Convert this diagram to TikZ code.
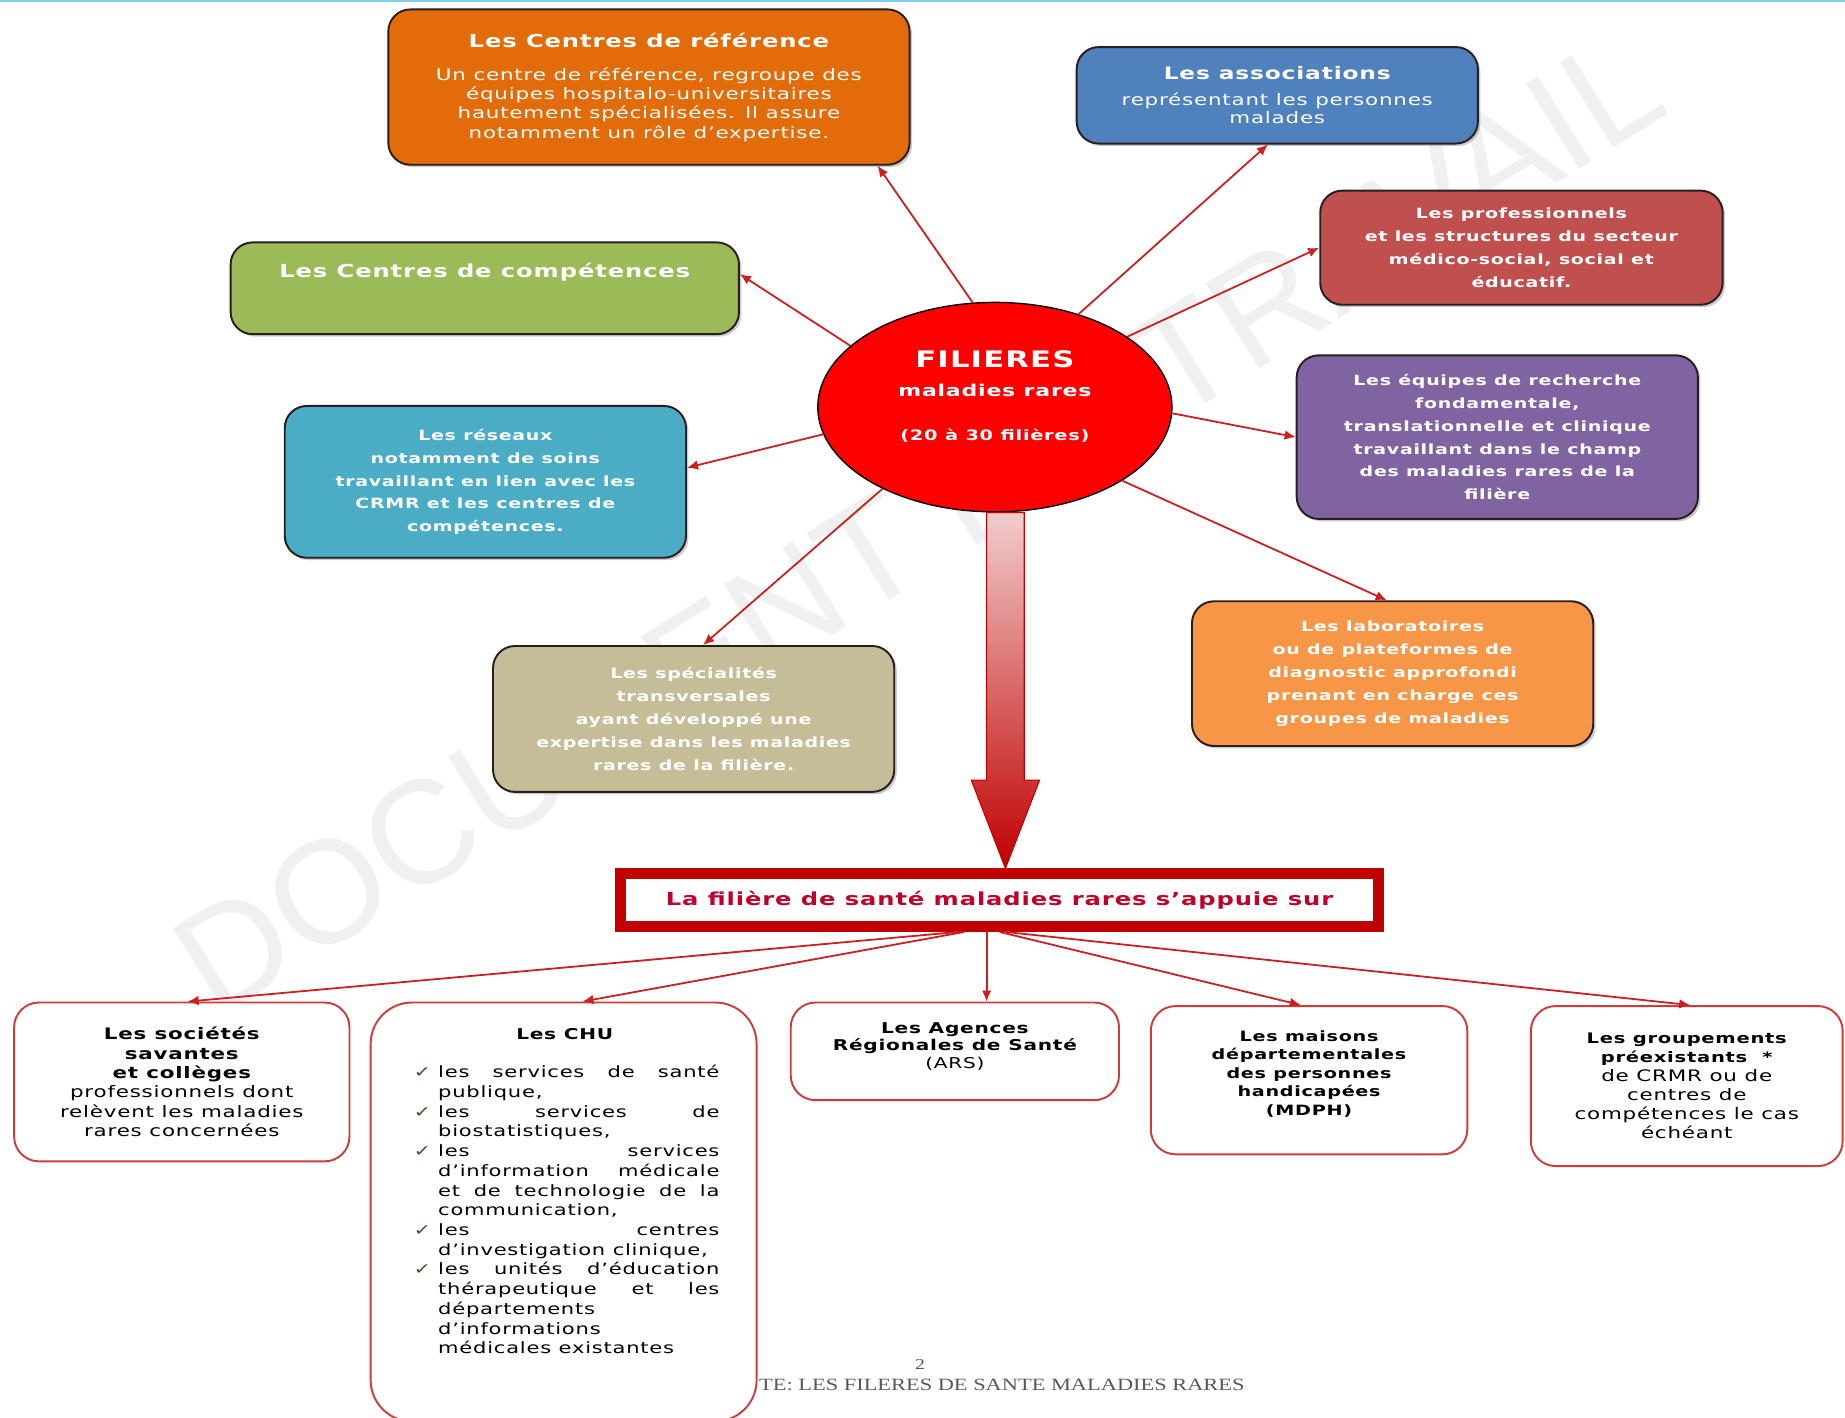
\documentclass[tikz,border=0pt]{standalone}
\usepackage{fontspec}
\setmainfont{DejaVu Sans}[FakeStretch=1.35,LetterSpace=5]
\newfontfamily\capfont{Liberation Serif}[FakeStretch=1.3]
\newfontfamily\wmfont{Liberation Sans}
\usetikzlibrary{arrows.meta,shapes.geometric,shadows,calc}
\definecolor{cOrange}{HTML}{E36C0A}
\definecolor{cBlue}{HTML}{4F81BD}
\definecolor{cRed}{HTML}{C0504D}
\definecolor{cGreen}{HTML}{9BBB59}
\definecolor{cTeal}{HTML}{4BACC6}
\definecolor{cPurple}{HTML}{8064A2}
\definecolor{cTan}{HTML}{C4BD97}
\definecolor{cOrangeB}{HTML}{F79646}
\definecolor{cDark}{HTML}{C00000}
\definecolor{cLine}{HTML}{CC1F1F}
\definecolor{cBot}{HTML}{CF3B3B}
\definecolor{cTitle}{HTML}{C0002A}
\definecolor{cCyan}{HTML}{7FCBEA}
\definecolor{cCheck}{HTML}{3A5A2A}
\definecolor{cEdge}{HTML}{281E1E}
\newcommand\ckm{\llap{\textcolor{cCheck}{✓}\hspace{5pt}}}
\newcommand\jl[1]{\hbox to 204pt{#1}}
\begin{document}
\begin{tikzpicture}[x=0.03cm,y=-0.03cm,
  upbox/.style={draw=cEdge, line width=1.4pt, rounded corners=16pt, align=center,
    text=white, inner sep=0pt,
    drop shadow={shadow xshift=1.8pt, shadow yshift=-1.8pt, opacity=0.4, fill=gray}},
  sz/.style 2 args={minimum width={#1*0.03cm}, minimum height={#2*0.03cm}},
  conn/.style={draw=cLine, line width=1.3pt, -{Latex[length=8pt,width=7pt]}},
  lowbox/.style={draw=cBot, line width=1.4pt, fill=white, rounded corners=18pt,
    align=center, inner sep=0pt, text=black},
  smallbold/.style={font=\bfseries\fontsize{10.2}{16.6}\selectfont}
]
\useasboundingbox (0,0) rectangle (1568,1205);
\fill[white] (0,0) rectangle (1568,1205);

% watermark
\node[font=\wmfont\fontsize{106}{106}\selectfont, text=gray!12, rotate=32] (wm) at (780,445) {DOCUMENT DE TRAVAIL};

% central ellipse
\node[ellipse, draw=black, line width=1pt, fill=red, text=white, inner sep=0pt,
      sz={301}{178}, align=center, font=\bfseries\fontsize{11.8}{16}\selectfont] (fil) at (845.5,346)
  {{\fontsize{16.5}{18}\selectfont FILIERES}\\[5pt] maladies rares\\[16pt]
   {\fontsize{10.4}{12}\selectfont (20 à 30 filières)}\\[1pt]\mbox{}};

% top boxes
\node[upbox, fill=cOrange, sz={443}{132}, font=\fontsize{11.5}{14}\selectfont] (b1) at (551.5,74)
  {{\fontsize{13}{15}\selectfont\bfseries Les Centres de référence}\\[10pt]
   Un centre de référence, regroupe des\\ équipes hospitalo-universitaires\\
   hautement spécialisées. Il assure\\ notamment un rôle d’expertise.};
\node[upbox, fill=cBlue, sz={341}{82}, font=\fontsize{11.5}{13.6}\selectfont] (b2) at (1085.5,81)
  {{\fontsize{12.5}{15}\selectfont\bfseries Les associations}\\[5pt]
   représentant les personnes\\ malades};
\node[upbox, fill=cRed, sz={342}{97}, smallbold] (b3) at (1293,210.5)
  {Les professionnels\\ et les structures du secteur\\ médico-social, social et\\ éducatif.};
\node[upbox, fill=cGreen, sz={432}{78}, font=\bfseries\fontsize{13}{15}\selectfont] (b4) at (412,245)
  {\raisebox{8pt}[0pt][0pt]{Les Centres de compétences}};
\node[upbox, fill=cTeal, sz={341}{129}, smallbold] (b5) at (412.5,409.5)
  {Les réseaux\\ notamment de soins\\ travaillant en lien avec les\\ CRMR et les centres de\\ compétences.};
\node[upbox, fill=cPurple, sz={341}{139}, smallbold] (b6) at (1272.5,371.5)
  {Les équipes de recherche\\ fondamentale,\\ translationnelle et clinique\\ travaillant dans le champ\\ des maladies rares de la\\ filière};
\node[upbox, fill=cTan, sz={341}{124}, smallbold] (b7) at (589.5,611)
  {Les spécialités\\ transversales\\ ayant développé une\\ expertise dans les maladies\\ rares de la filière.};
\node[upbox, fill=cOrangeB, sz={341}{123}, smallbold] (b8) at (1183.5,572.5)
  {Les laboratoires\\ ou de plateformes de\\ diagnostic approfondi\\ prenant en charge ces\\ groupes de maladies};

% connectors from the ellipse
\draw[conn] (fil.102) -- ($(b1.south east)+(-28,0)$);
\draw[conn] (fil.48) -- ($(b2.south)+(-8,0)$);
\draw[conn] (fil.28) -- (b3.west);
\draw[conn] (fil.157) -- ($(b4.east)+(0,-12)$);
\draw[conn] (fil.189) -- ($(b5.east)+(0,-12)$);
\draw[conn] (fil.-2) -- (b6.west);
\draw[conn] (fil.216) -- ($(b7.north)+(8,0)$);
\draw[conn] (fil.-30) -- ($(b8.north)+(-5,0)$);

% title box
\node[draw=cDark, line width=7.7pt, fill=white, sz={644}{45}, inner sep=0pt, text=cTitle,
      font=\bfseries\fontsize{13}{15}\selectfont] (tb) at (849.5,765)
  {La filière de santé maladies rares s’appuie sur};

% big arrow
\coordinate (aS) at ($(fil.south)+(9,0)$);
\coordinate (aT) at ($(tb.north)+(5,0)$);
\shade[top color={rgb,255:red,242;green,205;blue,205}, bottom color=cDark, draw=cDark, line width=0.8pt]
  ($(aS)+(-16,0)$) -- ($(aS)+(16,0)$) -- ($(aT)+(16,-75)$) -- ($(aT)+(29,-75)$) -- (aT)
  -- ($(aT)+(-29,-75)$) -- ($(aT)+(-16,-75)$) -- cycle;

% footer
\node[font=\capfont\fontsize{11}{12}\selectfont, text=black!65, inner sep=0pt] (pg) at (782,1160) {2};
\node[anchor=west, font=\capfont\fontsize{12.5}{13}\selectfont, text=black!65, inner sep=0pt] (cap) at (645,1177)
  {TE: LES FILERES DE SANTE MALADIES RARES};

% bottom boxes
\node[lowbox, sz={285}{135}, font=\fontsize{11.5}{14}\selectfont] (B1) at (154.5,919.5)
  {{\bfseries Les sociétés}\\ {\bfseries savantes}\\ {\bfseries et collèges}\\
   professionnels dont\\ relèvent les maladies\\ rares concernées};
\node[lowbox, rounded corners=30pt, sz={328}{356}] (B2) at (479,1030) {};
\node[font=\bfseries\fontsize{10.8}{13}\selectfont, inner sep=0pt] (chut) at ($(B2.north)+(1,28)$) {Les CHU};
\node[anchor=north west, inner sep=0pt, align=left, font=\fontsize{11.3}{14.3}\selectfont] (chul)
  at ($(B2.north west)+(58,54)$)
  {\ckm\jl{les\hfill services\hfill de\hfill santé}\\
   publique,\\
   \ckm\jl{les\hfill services\hfill de}\\
   biostatistiques,\\
   \ckm\jl{les\hfill services}\\
   \jl{d’information\hfill médicale}\\
   \jl{et\hfill de\hfill technologie\hfill de\hfill la}\\
   communication,\\
   \ckm\jl{les\hfill centres}\\
   d’investigation clinique,\\
   \ckm\jl{les\hfill unités\hfill d’éducation}\\
   \jl{thérapeutique\hfill et\hfill les}\\
   départements\\
   d’informations\\
   médicales existantes};
\node[lowbox, sz={279}{83}, font=\fontsize{10.8}{12.8}\selectfont] (B3) at (811.5,893.5)
  {{\bfseries Les Agences}\\ {\bfseries Régionales de Santé}\\ (ARS)\\[-4pt]\mbox{}};
\node[lowbox, sz={269}{126}, font=\bfseries\fontsize{10.3}{13.4}\selectfont] (B4) at (1112.5,918)
  {Les maisons\\ départementales\\ des personnes\\ handicapées\\ (MDPH)\\[-3pt]\mbox{}};
\node[lowbox, sz={265}{136}, font=\fontsize{11.5}{13.8}\selectfont] (B5) at (1433.5,923)
  {{\bfseries\fontsize{10.5}{13.8}\selectfont Les groupements}\\
   {\bfseries\fontsize{10.5}{13.8}\selectfont préexistants \ *}\\
   de CRMR ou de\\ centres de\\ compétences le cas\\ échéant};

% connectors from the title box
\draw[conn] ($(tb.south)+(-35,0)$) -- ($(B1.north)+(5,0)$);
\draw[conn] ($(tb.south)+(-30,0)$) -- ($(B2.north)+(16,0)$);
\draw[conn] ($(tb.south)+(-11,0)$) -- ($(B3.north)+(27,0)$);
\draw[conn] ($(tb.south)+(0,0)$) -- ($(B4.north)+(-7,0)$);
\draw[conn] ($(tb.south)+(5,0)$) -- ($(B5.north)+(3,0)$);

% top thin line
\draw[cCyan, line width=1.5pt] (0,1) -- (1568,1);
\end{tikzpicture}
\end{document}
